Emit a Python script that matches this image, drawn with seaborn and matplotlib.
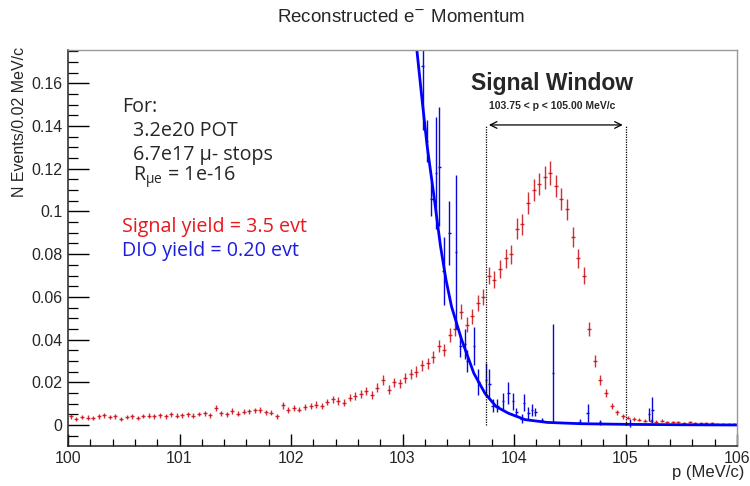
"""
Espectro de momento reconstruido del electrón (señal vs DIO), estilo ROOT.
Salida: out.png (750x486)
"""

import numpy as np
import matplotlib
matplotlib.use("Agg")
import matplotlib.pyplot as plt
from matplotlib.ticker import MultipleLocator, FuncFormatter
import seaborn as sns

# --- datos -------------------------------------------------------------------
# histograma de señal, bins de 0.05 MeV/c entre 100 y 106
sig_p = np.round(np.arange(100.025, 106.0, 0.05), 3)
sig_n = [
    0.0040, 0.0030, 0.0038, 0.0035, 0.0032, 0.0040, 0.0045, 0.0038, 0.0040, 0.0030,
    0.0036, 0.0040, 0.0034, 0.0042, 0.0044, 0.0040, 0.0046, 0.0040, 0.0050, 0.0044,
    0.0046, 0.0050, 0.0044, 0.0052, 0.0054, 0.0046, 0.0080, 0.0055, 0.0050, 0.0066,
    0.0052, 0.0062, 0.0064, 0.0068, 0.0070, 0.0060, 0.0058, 0.0040, 0.0092, 0.0070,
    0.0078, 0.0072, 0.0086, 0.0090, 0.0095, 0.0088, 0.0108, 0.0120, 0.0112, 0.0105,
    0.0128, 0.0135, 0.0145, 0.0160, 0.0142, 0.0175, 0.0210, 0.0165, 0.0200, 0.0195,
    0.0220, 0.0240, 0.0250, 0.0280, 0.0290, 0.0320, 0.0370, 0.0350, 0.0420, 0.0450,
    0.0530, 0.0470, 0.0510, 0.0570, 0.0600, 0.0700, 0.0680, 0.0730, 0.0780, 0.0800,
    0.0920, 0.0940, 0.1040, 0.1100, 0.1130, 0.1160, 0.1180, 0.1120, 0.1060, 0.1010,
    0.0880, 0.0780, 0.0700, 0.0450, 0.0300, 0.0210, 0.0150, 0.0090, 0.0060, 0.0040,
    0.0035, 0.0030, 0.0025, 0.0020, 0.0020, 0.0016, 0.0020, 0.0015, 0.0015, 0.0012,
    0.0010, 0.0012, 0.0010, 0.0008, 0.0010, 0.0008, 0.0006, 0.0005, 0.0005, 0.0004,
]
sig_err = [
    0.0010, 0.0009, 0.0010, 0.0010, 0.0009, 0.0010, 0.0011, 0.0010, 0.0010, 0.0009,
    0.0010, 0.0010, 0.0010, 0.0011, 0.0011, 0.0010, 0.0011, 0.0010, 0.0011, 0.0011,
    0.0011, 0.0011, 0.0011, 0.0011, 0.0012, 0.0011, 0.0014, 0.0012, 0.0011, 0.0013,
    0.0012, 0.0012, 0.0013, 0.0013, 0.0013, 0.0012, 0.0012, 0.0010, 0.0015, 0.0013,
    0.0014, 0.0013, 0.0014, 0.0015, 0.0015, 0.0015, 0.0016, 0.0017, 0.0017, 0.0016,
    0.0018, 0.0018, 0.0019, 0.0020, 0.0019, 0.0021, 0.0023, 0.0020, 0.0022, 0.0022,
    0.0023, 0.0024, 0.0025, 0.0026, 0.0026, 0.0028, 0.0030, 0.0029, 0.0032, 0.0033,
    0.0036, 0.0034, 0.0035, 0.0037, 0.0038, 0.0041, 0.0040, 0.0042, 0.0043, 0.0044,
    0.0047, 0.0048, 0.0050, 0.0052, 0.0052, 0.0053, 0.0054, 0.0052, 0.0051, 0.0050,
    0.0046, 0.0044, 0.0041, 0.0033, 0.0027, 0.0023, 0.0019, 0.0015, 0.0012, 0.0010,
    0.0009, 0.0009, 0.0008, 0.0007, 0.0007, 0.0006, 0.0007, 0.0006, 0.0006, 0.0005,
    0.0005, 0.0005, 0.0005, 0.0004, 0.0005, 0.0004, 0.0004, 0.0003, 0.0003, 0.0003,
]

# puntos DIO (fondo)
dio_p = [103.18, 103.22, 103.26, 103.30, 103.33, 103.37, 103.42, 103.48, 103.52,
         103.56, 103.58, 103.64, 103.68, 103.75, 103.78, 103.81, 103.85, 103.90,
         103.95, 103.99, 104.02, 104.07, 104.09, 104.13, 104.16, 104.19, 104.25,
         104.35, 104.59, 104.66, 104.77, 105.04, 105.21, 105.24]
dio_n = [0.168, 0.133, 0.106, 0.118, 0.121, 0.072, 0.090, 0.081, 0.037,
         0.038, 0.030, 0.037, 0.020, 0.021, 0.019, 0.009, 0.009, 0.011,
         0.015, 0.011, 0.006, 0.003, 0.0105, 0.0056, 0.007, 0.006, 0.0025,
         0.0245, 0.0016, 0.0056, 0.0012, 0.0010, 0.005, 0.007]
dio_err = [0.030, 0.010, 0.008, 0.026, 0.028, 0.016, 0.015, 0.036, 0.005,
           0.007, 0.005, 0.009, 0.006, 0.008, 0.007, 0.003, 0.003, 0.004,
           0.005, 0.004, 0.002, 0.002, 0.004, 0.003, 0.003, 0.002, 0.001,
           0.023, 0.001, 0.004, 0.001, 0.002, 0.003, 0.006]

# curva de ajuste DIO
fit_p = [103.13, 103.17, 103.22, 103.28, 103.34, 103.39, 103.44, 103.53, 103.64,
         103.74, 103.84, 103.95, 104.10, 104.30, 104.60, 105.00, 105.50, 106.00]
fit_n = [0.175, 0.155, 0.131, 0.108, 0.084, 0.068, 0.0554, 0.040, 0.0242,
         0.0148, 0.0086, 0.0055, 0.0025, 0.0012, 0.0006, 0.0003, 0.0001, 0.0]

ventana = [103.75, 105.00]

ROJO = "#cc0a14"
AZUL = "#0a0ad8"

sns.set_theme(style="ticks")
plt.rcParams["font.family"] = ["Liberation Sans", "DejaVu Sans"]

fig = plt.figure(figsize=(7.5, 4.86), dpi=100)
ax = fig.add_axes([68 / 750, 1 - 445.7 / 486, (737 - 68) / 750, (445.7 - 50) / 486])

ax.errorbar(sig_p, sig_n, yerr=sig_err, xerr=0.018, fmt="none",
            ecolor=ROJO, elinewidth=1.0, alpha=0.85)
ax.errorbar(dio_p, dio_n, yerr=dio_err, xerr=0.012, fmt="none",
            ecolor=AZUL, elinewidth=1.0)
sns.lineplot(x=fit_p, y=fit_n, ax=ax, color="#0000ff", lw=2.0)

# ventana de señal
for xv in ventana:
    ax.plot([xv, xv], [0.0, 0.1405], color="black", lw=0.9, ls=(0, (1, 1)))
ax.annotate("", xy=(ventana[0], 0.1405), xytext=(ventana[1], 0.1405),
            arrowprops=dict(arrowstyle="<->", color="black", lw=0.9))
ax.text(sum(ventana) / 2 - 0.03, 0.160, "Signal Window", ha="center", va="center",
        fontsize=16.5, fontweight="bold")
ax.text(sum(ventana) / 2 - 0.03, 0.1495, "103.75 < p < 105.00 MeV/c", ha="center",
        va="center", fontsize=7.5, fontweight="bold")

ax.set_xlim(100, 106)
ax.set_ylim(-0.0097, 0.1756)
ax.xaxis.set_major_locator(MultipleLocator(1))
ax.xaxis.set_minor_locator(MultipleLocator(0.2))
ax.yaxis.set_major_locator(MultipleLocator(0.02))
ax.yaxis.set_minor_locator(MultipleLocator(0.005))
ax.yaxis.set_major_formatter(FuncFormatter(lambda v, _: f"{v:g}"))
ax.tick_params(axis="x", which="major", direction="in", length=8.5, width=1,
               labelsize=11.5, pad=4, color="black")
ax.tick_params(axis="x", which="minor", direction="in", length=5, width=0.9, color="black")
ax.tick_params(axis="y", which="major", direction="in", length=15, width=1,
               labelsize=11.5, pad=4, color="black")
ax.tick_params(axis="y", which="minor", direction="in", length=7.5, width=0.9, color="black")
for lado in ["left", "bottom"]:
    ax.spines[lado].set_color("#222222")
    ax.spines[lado].set_linewidth(1.1)
for lado in ["top", "right"]:
    ax.spines[lado].set_visible(True)
    ax.spines[lado].set_color("#999999")
    ax.spines[lado].set_linewidth(1.0)
ax.set_xlabel("")
ax.set_ylabel("")

# textos de figura
fig.text(0.535, 1 - 18 / 486, "Reconstructed e$^{-}$ Momentum", ha="center",
         va="center", fontsize=13.5)
fig.text(744 / 750, 1 - 472 / 486, "p (MeV/c)", ha="right", va="center", fontsize=12)
fig.text(20 / 750, 1 - 47 / 486, "N Events/0.02 MeV/c", ha="center", va="top",
         rotation=90, fontsize=11.5)

fuente = ["Open Sans", "DejaVu Sans"]
tam = 14.2
fig.text(122 / 750, 1 - 107 / 486, "For:", fontsize=tam, va="center", family=fuente)
fig.text(133 / 750, 1 - 131 / 486, "3.2e20 POT", fontsize=tam, va="center", family=fuente)
fig.text(133 / 750, 1 - 155 / 486, "6.7e17 \u03bc- stops", fontsize=tam, va="center", family=fuente)
fig.text(133 / 750, 1 - 177 / 486, "R$_{\\mathregular{\u03bce}}$ = 1e-16", fontsize=tam,
         va="center", family=fuente)
fig.text(122 / 750, 1 - 227 / 486, "Signal yield = 3.5 evt", fontsize=tam, va="center",
         color="#e8191e", family=fuente)
fig.text(122 / 750, 1 - 251 / 486, "DIO yield = 0.20 evt", fontsize=tam, va="center",
         color="#1c1ce0", family=fuente)

fig.savefig("out.png", dpi=100)
